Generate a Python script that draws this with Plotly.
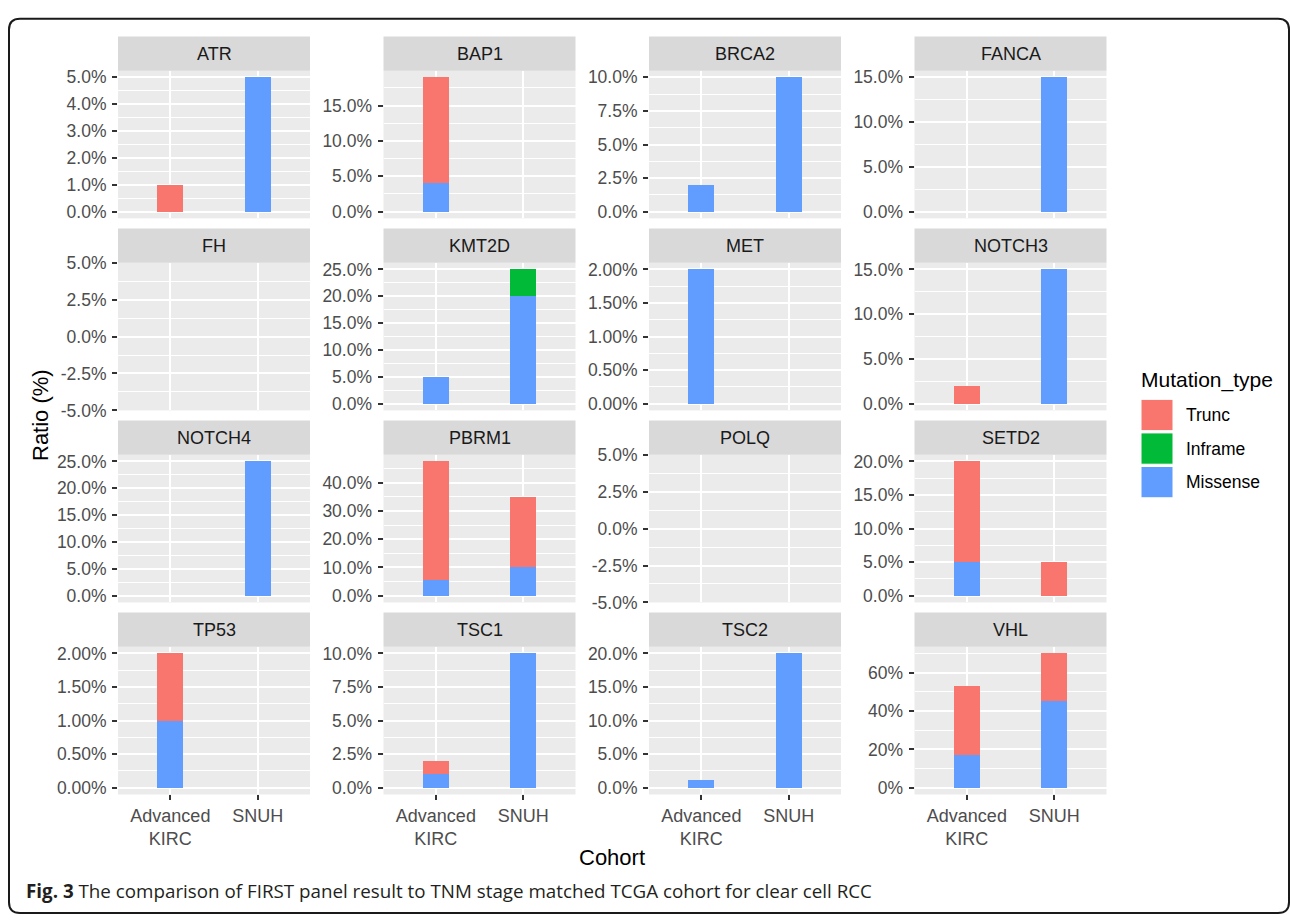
import plotly.graph_objects as go

# ---------------------------------------------------------------- data
genes = ["ATR", "BAP1", "BRCA2", "FANCA",
         "FH", "KMT2D", "MET", "NOTCH3",
         "NOTCH4", "PBRM1", "POLQ", "SETD2",
         "TP53", "TSC1", "TSC2", "VHL"]
cohorts = ["Advanced KIRC", "SNUH"]

mutation_types = ["Trunc", "Inframe", "Missense"]
type_colors = {"Trunc": "#F8766D", "Inframe": "#00BA38", "Missense": "#619CFF"}

# Ratio (%) per gene, one list per mutation type and cohort
trunc_kirc = [1, 15, 0, 0, 0, 0, 0, 2, 0, 42.1, 0, 15, 1, 1, 0, 36.1]
trunc_snuh = [0, 0, 0, 0, 0, 0, 0, 0, 0, 25, 0, 5, 0, 0, 0, 25]
inframe_kirc = [0, 0, 0, 0, 0, 0, 0, 0, 0, 0, 0, 0, 0, 0, 0, 0]
inframe_snuh = [0, 0, 0, 0, 0, 5, 0, 0, 0, 0, 0, 0, 0, 0, 0, 0]
missense_kirc = [0, 4, 2, 0, 0, 5, 2, 0, 0, 5.4, 0, 5, 1, 1, 1.1, 17.2]
missense_snuh = [5, 0, 10, 15, 0, 20, 0, 15, 25, 10, 0, 0, 0, 10, 20, 45]

# y tick labels of each facet (free scales)
y_tick_labels = [
    ["0.0%", "1.0%", "2.0%", "3.0%", "4.0%", "5.0%"],
    ["0.0%", "5.0%", "10.0%", "15.0%"],
    ["0.0%", "2.5%", "5.0%", "7.5%", "10.0%"],
    ["0.0%", "5.0%", "10.0%", "15.0%"],
    ["-5.0%", "-2.5%", "0.0%", "2.5%", "5.0%"],
    ["0.0%", "5.0%", "10.0%", "15.0%", "20.0%", "25.0%"],
    ["0.00%", "0.50%", "1.00%", "1.50%", "2.00%"],
    ["0.0%", "5.0%", "10.0%", "15.0%"],
    ["0.0%", "5.0%", "10.0%", "15.0%", "20.0%", "25.0%"],
    ["0.0%", "10.0%", "20.0%", "30.0%", "40.0%"],
    ["-5.0%", "-2.5%", "0.0%", "2.5%", "5.0%"],
    ["0.0%", "5.0%", "10.0%", "15.0%", "20.0%"],
    ["0.00%", "0.50%", "1.00%", "1.50%", "2.00%"],
    ["0.0%", "2.5%", "5.0%", "7.5%", "10.0%"],
    ["0.0%", "5.0%", "10.0%", "15.0%", "20.0%"],
    ["0%", "20%", "40%", "60%"],
]

values = {
    "Trunc": (trunc_kirc, trunc_snuh),
    "Inframe": (inframe_kirc, inframe_snuh),
    "Missense": (missense_kirc, missense_snuh),
}

# ---------------------------------------------------------------- layout geometry (px)
W, H = 1290, 921
PANEL_LEFT = [118, 383.5, 649, 914.5]
PANEL_W = 192
STRIP_TOP0 = 27
ROW_STEP = 196.3
STRIP_H = 35
PANEL_H = 151

FONT = "Liberation Sans, Arial, sans-serif"
TICK_FONT = dict(family=FONT, size=17.5, color="#4D4D4D")


def px_x(x):
    return x / W


def px_y(y):
    return 1 - y / H


fig = go.Figure()
shapes = []
annotations = []
layout_axes = {}

for i, gene in enumerate(genes):
    r, c = divmod(i, 4)
    k = i + 1
    xname = "x" if k == 1 else f"x{k}"
    yname = "y" if k == 1 else f"y{k}"

    left = PANEL_LEFT[c]
    right = left + PANEL_W
    strip_top = STRIP_TOP0 + r * ROW_STEP
    top = strip_top + STRIP_H
    bottom = top + PANEL_H

    # stacked bars: Missense at the bottom, Trunc on top
    for mtype in reversed(mutation_types):
        kirc, snuh = values[mtype]
        ys = [kirc[i], snuh[i]]
        fig.add_trace(go.Bar(
            x=cohorts,
            y=[v if v else None for v in ys],
            width=0.3,
            marker=dict(color=type_colors[mtype], line=dict(width=0)),
            xaxis=xname, yaxis=yname,
            name=mtype, showlegend=False,
        ))

    totals = [sum(values[m][j][i] for m in mutation_types) for j in range(2)]
    ymax = max(totals)
    yrange = [-5, 5] if ymax == 0 else [-0.05 * ymax, 1.05 * ymax]

    labels = y_tick_labels[i]
    majors = [float(t.rstrip("%")) for t in labels]
    step = majors[1] - majors[0]
    minors = [majors[0] - step / 2] + [m + step / 2 for m in majors]
    minors = [m for m in minors if yrange[0] <= m <= yrange[1]]

    bottom_row = r == 3
    layout_axes["xaxis" if k == 1 else f"xaxis{k}"] = dict(
        domain=[px_x(left), px_x(right)],
        anchor=yname,
        type="category",
        categoryorder="array",
        categoryarray=cohorts,
        range=[-0.6, 1.6],
        showgrid=True, gridcolor="white", gridwidth=2,
        zeroline=False, showline=False,
        ticks="outside" if bottom_row else "",
        ticklen=5, tickwidth=1.5, tickcolor="#333333",
        showticklabels=bottom_row,
        tickmode="array",
        tickvals=cohorts,
        ticktext=[cname.replace(" ", "<br>") for cname in cohorts],
        tickfont=dict(family=FONT, size=18, color="#4D4D4D"),
        fixedrange=True,
    )
    layout_axes["yaxis" if k == 1 else f"yaxis{k}"] = dict(
        domain=[px_y(bottom), px_y(top)],
        anchor=xname,
        range=yrange,
        tickmode="array",
        tickvals=majors,
        ticktext=labels,
        ticks="outside", ticklen=5, tickwidth=1.5, tickcolor="#333333",
        ticklabelstandoff=2,
        tickfont=TICK_FONT,
        showgrid=True, gridcolor="white", gridwidth=2,
        minor=dict(tickmode="array", tickvals=minors, showgrid=True,
                   gridcolor="white", gridwidth=1, ticks=""),
        zeroline=False, showline=False,
        fixedrange=True,
    )

    # facet strip
    shapes.append(dict(
        type="rect", xref="paper", yref="paper",
        x0=px_x(left), x1=px_x(right), y0=px_y(top), y1=px_y(strip_top),
        fillcolor="#D9D9D9", line=dict(width=0), layer="below",
    ))
    annotations.append(dict(
        xref="paper", yref="paper",
        x=px_x((left + right) / 2), y=px_y(strip_top + STRIP_H / 2),
        text=gene, showarrow=False, xanchor="center", yanchor="middle",
        font=dict(family=FONT, size=18, color="#1A1A1A"),
    ))

# axis titles
annotations.append(dict(
    xref="paper", yref="paper", x=px_x(612), y=px_y(866),
    text="Cohort", showarrow=False, xanchor="center", yanchor="middle",
    font=dict(family=FONT, size=22, color="#000000"),
))
annotations.append(dict(
    xref="paper", yref="paper", x=px_x(40), y=px_y(414),
    text="Ratio (%)", textangle=-90, showarrow=False,
    xanchor="center", yanchor="middle",
    font=dict(family=FONT, size=22, color="#000000"),
))

# legend
annotations.append(dict(
    xref="paper", yref="paper", x=px_x(1139), y=px_y(378),
    text="Mutation_type", showarrow=False, xanchor="left", yanchor="middle",
    font=dict(family=FONT, size=21, color="#000000"),
))
for j, mtype in enumerate(mutation_types):
    key_top = 398 + j * 34.3
    shapes.append(dict(
        type="rect", xref="paper", yref="paper",
        x0=px_x(1141), x1=px_x(1173), y0=px_y(key_top + 32), y1=px_y(key_top),
        fillcolor=type_colors[mtype], line=dict(color="white", width=1),
    ))
    annotations.append(dict(
        xref="paper", yref="paper", x=px_x(1184), y=px_y(key_top + 16),
        text=mtype, showarrow=False, xanchor="left", yanchor="middle",
        font=dict(family=FONT, size=17.5, color="#000000"),
    ))

# caption
annotations.append(dict(
    xref="paper", yref="paper", x=px_x(24), y=px_y(901),
    text="<b>Fig. 3</b> The comparison of FIRST panel result to TNM stage "
         "matched TCGA cohort for clear cell RCC",
    showarrow=False, xanchor="left", yanchor="middle",
    font=dict(family="Open Sans, Noto Sans, sans-serif", size=18.8, color="#231F20"),
))

# rounded frame around the figure
x0, y0, x1, y1, rad = 9, 9, 1289, 923, 11
frame = (
    f"M {px_x(x0)},{px_y(y1 - rad)} "
    f"L {px_x(x0)},{px_y(y0 + rad)} "
    f"Q {px_x(x0)},{px_y(y0)} {px_x(x0 + rad)},{px_y(y0)} "
    f"L {px_x(x1 - rad)},{px_y(y0)} "
    f"Q {px_x(x1)},{px_y(y0)} {px_x(x1)},{px_y(y0 + rad)} "
    f"L {px_x(x1)},{px_y(y1 - rad)} "
    f"Q {px_x(x1)},{px_y(y1)} {px_x(x1 - rad)},{px_y(y1)} "
    f"L {px_x(x0 + rad)},{px_y(y1)} "
    f"Q {px_x(x0)},{px_y(y1)} {px_x(x0)},{px_y(y1 - rad)} Z"
)
shapes.append(dict(type="path", xref="paper", yref="paper", path=frame,
                   line=dict(color="#1A1A1A", width=2)))

fig.update_layout(
    width=W, height=H,
    margin=dict(l=0, r=0, t=0, b=0),
    paper_bgcolor="white",
    plot_bgcolor="#EBEBEB",
    barmode="stack",
    showlegend=False,
    font=dict(family=FONT, color="#000000"),
    shapes=shapes,
    annotations=annotations,
    **layout_axes,
)

fig.write_html("out.html")
